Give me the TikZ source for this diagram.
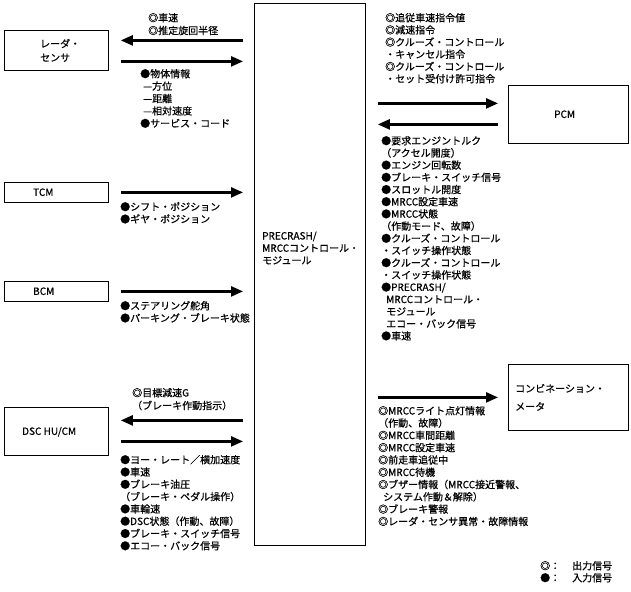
\documentclass[tikz,border=0pt]{standalone}
\usepackage{fontspec}
\setmainfont{Noto Sans CJK JP}[FakeBold=0.6]
\usepackage{tikz}
\usetikzlibrary{arrows.meta,positioning}

\begin{document}
\begin{tikzpicture}[x=1pt,y=-1pt,>={Triangle[length=12pt,width=10pt]},
  every node/.style={font=\fontsize{10}{12.3}\selectfont,inner sep=0pt},
  unit/.style={draw,line width=0.8pt,anchor=north west},
  sig/.style={line width=2.4pt},
  txt/.style={anchor=west,text height=8.5pt,text depth=1.5pt}]
\useasboundingbox (0,0) rectangle (631,591);

\node[unit,minimum width=111pt,minimum height=542pt] (ecu) at (254,3) {};
\foreach \t [count=\i from 0] in {PRECRASH/,MRCCコントロール・,モジュール}
  \node[txt] (ecut\i) at (262,236+12.3*\i) {\t};

\node[unit,minimum width=104pt,minimum height=40pt] (radar) at (4,30) {};
\node[right=36pt of radar.west,anchor=west,align=left,font=\fontsize{10}{14}\selectfont] (radart) {レーダ・\\センサ};
\node[unit,minimum width=104pt,minimum height=20pt] (tcm) at (4,182) {};
\node[txt,right=29pt of tcm.west] (tcmt) {TCM};
\node[unit,minimum width=104pt,minimum height=20pt] (bcm) at (4,281) {};
\node[txt,right=29pt of bcm.west] (bcmt) {BCM};
\node[unit,minimum width=104pt,minimum height=48pt] (dsc) at (4,407) {};
\node[txt,right=18pt of dsc.west] (dsct) {DSC HU/CM};
\node[unit,minimum width=120pt,minimum height=58pt] (pcm) at (508,85) {};
\node[txt,right=46pt of pcm.west] (pcmt) {PCM};
\node[unit,minimum width=120pt,minimum height=66pt] (meter) at (508,364) {};
\node[right=7pt of meter.west,anchor=west,align=left,font=\fontsize{10}{18}\selectfont] (metert) {コンビネーション・\\メータ};

\coordinate (r1) at ([yshift=10pt]radar.east);
\coordinate (r2) at ([yshift=-11pt]radar.east);
\coordinate (d1) at ([yshift=11pt]dsc.east);
\coordinate (d2) at ([yshift=-10pt]dsc.east);
\coordinate (p1) at ([yshift=11pt]pcm.west);
\coordinate (p2) at ([yshift=-10pt]pcm.west);
\draw[sig,<-,shorten <=12pt,shorten >=11pt] (r1) -- (r1 -| ecu.west);
\draw[sig,->,shorten <=12pt,shorten >=11pt] (r2) -- (r2 -| ecu.west);
\draw[sig,->,shorten <=12pt,shorten >=11pt] (tcm.east) -- (tcm.east -| ecu.west);
\draw[sig,->,shorten <=12pt,shorten >=11pt] (bcm.east) -- (bcm.east -| ecu.west);
\draw[sig,<-,shorten <=12pt,shorten >=11pt] (d1) -- (d1 -| ecu.west);
\draw[sig,->,shorten <=12pt,shorten >=11pt] (d2) -- (d2 -| ecu.west);
\draw[sig,->,shorten <=12pt,shorten >=10pt] (p1 -| ecu.east) -- (p1);
\draw[sig,<-,shorten <=12pt,shorten >=10pt] (p2 -| ecu.east) -- (p2);
\draw[sig,->,shorten <=12pt,shorten >=10pt] (meter.west -| ecu.east) -- (meter.west);

\foreach \t [count=\i from 0] in {◎車速,◎推定旋回半径}
  \node[txt] (radout\i) at (148,18+12.8*\i) {\t};
\foreach \t [count=\i from 0] in {●物体情報,\hspace{3pt}—方位,\hspace{3pt}—距離,\hspace{3pt}—相対速度,●サービス・コード}
  \node[txt] (radin\i) at (140,74+12.4*\i) {\t};
\foreach \t [count=\i from 0] in {●シフト・ポジション,●ギヤ・ポジション}
  \node[txt] (tcmin\i) at (120,207+12.3*\i) {\t};
\foreach \t [count=\i from 0] in {●ステアリング舵角,●パーキング・ブレーキ状態}
  \node[txt] (bcmin\i) at (120,306+12.3*\i) {\t};
\foreach \t [count=\i from 0] in {◎目標減速G,（ブレーキ作動指示）}
  \node[txt] (dscout\i) at (132,393+12.8*\i) {\t};
\foreach \t [count=\i from 0] in {●ヨー・レート／横加速度,●車速,●ブレーキ油圧,（ブレーキ・ペダル操作）,●車輪速,●DSC状態（作動、故障）,●ブレーキ・スイッチ信号,●エコー・バック信号}
  \node[txt] (dscin\i) at (120,460+12.3*\i) {\t};
\foreach \t [count=\i from 0] in {◎追従車速指令値,◎減速指令,◎クルーズ・コントロール,・キャンセル指令,◎クルーズ・コントロール,・セット受付け許可指令}
  \node[txt] (pcmout\i) at (385,18+12.2*\i) {\t};
\foreach \t [count=\i from 0] in {●要求エンジントルク,（アクセル開度）,●エンジン回転数,●ブレーキ・スイッチ信号,●スロットル開度,●MRCC設定車速,●MRCC状態,（作動モード、故障）,●クルーズ・コントロール,・スイッチ操作状態,●クルーズ・コントロール,・スイッチ操作状態,●PRECRASH/,\hspace{5pt}MRCCコントロール・,\hspace{5pt}モジュール,\hspace{5pt}エコー・バック信号,●車速}
  \node[txt] (pcmin\i) at (381,141+12.2*\i) {\t};
\foreach \t [count=\i from 0] in {◎MRCCライト点灯情報,（作動、故障）,◎MRCC車間距離,◎MRCC設定車速,◎前走車追従中,◎MRCC待機,◎ブザー情報（MRCC接近警報、,\hspace{5pt}システム作動＆解除）,◎ブレーキ警報,◎レーダ・センサ異常・故障情報}
  \node[txt] (metout\i) at (378,411+12.3*\i) {\t};

\node[txt] (lgout) at (540,566) {◎：};
\node[txt,right=32pt of lgout.west] (lgoutt) {出力信号};
\node[txt] (lgin) at (540,578) {●：};
\node[txt,right=32pt of lgin.west] (lgint) {入力信号};
\end{tikzpicture}
\end{document}
